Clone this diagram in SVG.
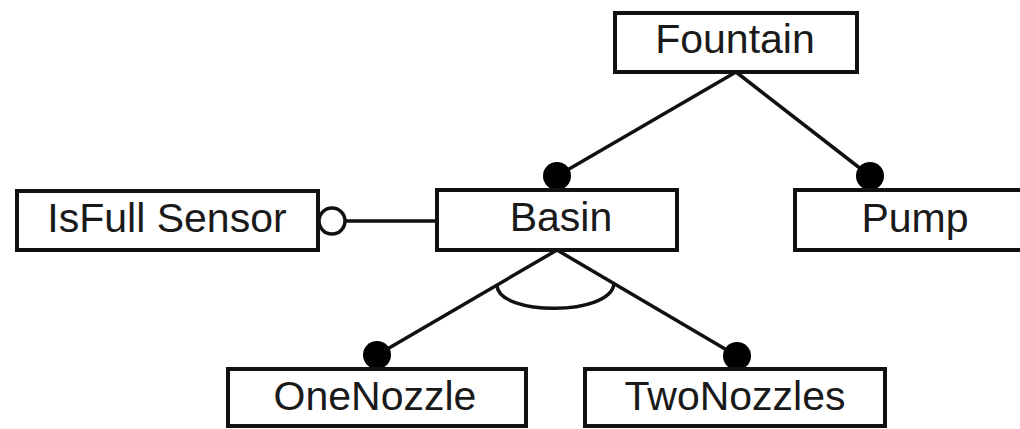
<svg xmlns="http://www.w3.org/2000/svg" width="1020" height="429" viewBox="0 0 1020 429">
  <style>
    .box { fill: #fff; stroke: #111; stroke-width: 4; }
    .lbl { font-family: "Liberation Sans", Arial, sans-serif; font-size: 41px; fill: #1a1a1a; text-anchor: middle; }
    .edge { fill: none; stroke: #111; stroke-width: 3.5; stroke-linecap: round; }
    .dot { fill: #000; }
    .opt { fill: #fff; stroke: #111; stroke-width: 3.5; }
  </style>
  <rect width="1020" height="429" fill="#fff"/>

  <g id="connectors">
    <line class="edge" x1="736" y1="72" x2="557" y2="176"/>
    <line class="edge" x1="736" y1="72" x2="870" y2="176"/>
    <line class="edge" x1="345" y1="221" x2="437" y2="221"/>
    <line class="edge" x1="557" y1="250" x2="377" y2="355"/>
    <line class="edge" x1="557" y1="250" x2="737" y2="356"/>
    <!-- alternative group arc -->
    <path class="edge" d="M497,286 C500,316 610,316 614,284"/>
    <circle class="dot" cx="557" cy="176" r="14"/>
    <circle class="dot" cx="870" cy="176" r="14"/>
    <circle class="dot" cx="377" cy="355" r="14"/>
    <circle class="dot" cx="737" cy="356" r="14"/>
    <circle class="opt" cx="332" cy="221" r="13"/>
  </g>

  <g id="fountain">
    <rect class="box" x="615" y="13" width="242" height="59"/>
    <text class="lbl" x="735" y="53">Fountain</text>
  </g>
  <g id="isfull-sensor">
    <rect class="box" x="17" y="191" width="301" height="59"/>
    <text class="lbl" x="167" y="232">IsFull Sensor</text>
  </g>
  <g id="basin">
    <rect class="box" x="437" y="190" width="240" height="60"/>
    <text class="lbl" x="561" y="231">Basin</text>
  </g>
  <g id="pump">
    <rect class="box" x="795" y="190" width="240" height="60"/>
    <text class="lbl" x="915" y="232">Pump</text>
  </g>
  <g id="onenozzle">
    <rect class="box" x="228" y="369" width="298" height="57"/>
    <text class="lbl" x="375" y="410">OneNozzle</text>
  </g>
  <g id="twonozzles">
    <rect class="box" x="585" y="369" width="300" height="57"/>
    <text class="lbl" x="735" y="410">TwoNozzles</text>
  </g>
</svg>
